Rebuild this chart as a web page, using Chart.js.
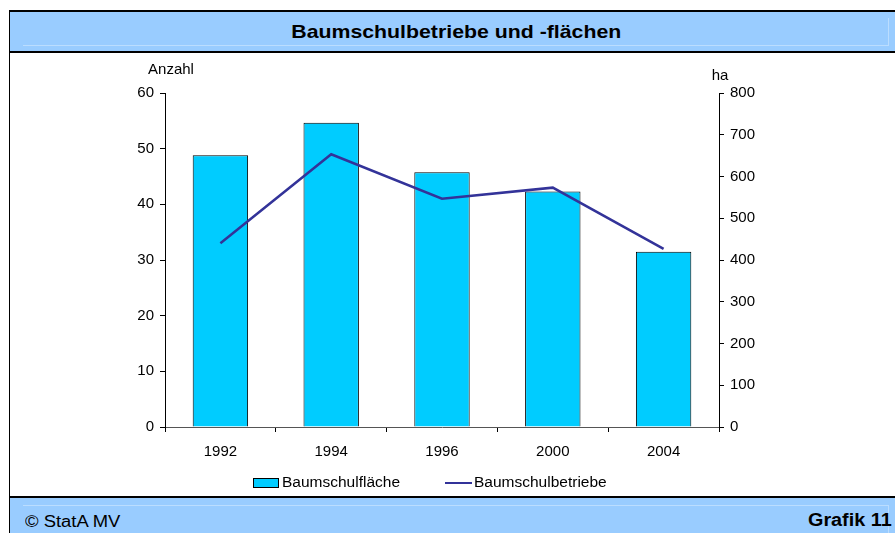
<!DOCTYPE html>
<html>
<head>
<meta charset="utf-8">
<script src="https://cdn.jsdelivr.net/npm/chart.js@4/dist/chart.umd.min.js"></script>
<style>
  body { margin: 0; width: 895px; height: 533px; overflow: hidden; background: #fff;
         font-family: "Liberation Sans", Arial, sans-serif; position: relative; }
  #head { position: absolute; left: 9px; top: 10px; width: 900px; height: 39px;
          background: #99CCFF; border-top: 2px solid #000; border-left: 1px solid #000;
          border-bottom: 2px solid #000; }
  #head .bevel { position: absolute; left: 13px; top: 6px; width: 865px; height: 27px;
                 border-right: 1px solid #BBDDFF; border-bottom: 1px solid #BBDDFF; }
  #title { position: absolute; left: 0; top: 0; width: 892px; line-height: 40px; text-align: center;
           font-weight: bold; font-size: 19px; }
  #title span { display: inline-block; transform: scaleX(1.12); }
  #box { position: absolute; left: 9px; top: 53px; width: 900px; height: 443px; border-left: 1px solid #000; }
  #foot { position: absolute; left: 9px; top: 496px; width: 900px; height: 40px;
          background: #99CCFF; border-top: 2px solid #000; border-left: 1px solid #000; }
  #foot .bevel { position: absolute; left: 13px; top: 7px; width: 865px; height: 40px;
                 border-top: 1px solid #BBDDFF; border-right: 1px solid #BBDDFF; }
  #copy { position: absolute; left: 15px; top: 15px; font-size: 16px; transform: scaleX(1.15); transform-origin: left center; }
  #grafik { position: absolute; left: 798px; top: 12px; font-size: 18px; font-weight: bold;
            transform: scaleX(1.1); transform-origin: left center; }
  #chart { position: absolute; left: 0; top: 0; }
</style>
</head>
<body>
<div id="head"><div class="bevel"></div><div id="title"><span>Baumschulbetriebe und -flächen</span></div></div>
<div id="box"></div>
<div id="foot"><div class="bevel"></div><div id="copy">© StatA MV</div><div id="grafik">Grafik 11</div></div>
<canvas id="chart" width="895" height="533"></canvas>
<script>
// Data
const years = ['1992', '1994', '1996', '2000', '2004'];
const flaeche = [651, 729, 610, 564, 420];   // ha, right axis
const betriebe = [33, 49, 41, 43, 32];       // Anzahl, left axis
const leftTicks = [0, 10, 20, 30, 40, 50, 60];
const rightTicks = [0, 100, 200, 300, 400, 500, 600, 700, 800];

const FONT = '"Liberation Sans", Arial, sans-serif';

// Axis captions and legend drawn on the canvas
const extrasPlugin = {
    id: 'extras',
    afterDraw(chart) {
        const ctx = chart.ctx;
        const area = chart.chartArea;
        ctx.save();
        ctx.font = '15px ' + FONT;
        ctx.fillStyle = '#000';
        ctx.textBaseline = 'middle';
        ctx.textAlign = 'center';
        ctx.fillText('Anzahl', area.left + 6, 70);
        ctx.fillText('ha', area.right + 1, 76);

        // legend
        ctx.font = '15.5px ' + FONT;
        ctx.textAlign = 'left';
        const starts = [253, 445];
        const y = 483;
        chart.data.datasets.forEach((ds, i) => {
            const x = starts[i];
            if (ds.type === 'line') {
                ctx.strokeStyle = ds.borderColor;
                ctx.lineWidth = 2;
                ctx.beginPath();
                ctx.moveTo(x, y);
                ctx.lineTo(x + 27, y);
                ctx.stroke();
            } else {
                ctx.fillStyle = ds.backgroundColor;
                ctx.fillRect(x, y - 5, 26, 10);
                ctx.strokeStyle = '#000';
                ctx.lineWidth = 1;
                ctx.strokeRect(x + 0.5, y - 4.5, 25, 9);
            }
            ctx.fillStyle = '#000';
            ctx.fillText(ds.label, x + 29, y);
        });
        ctx.restore();
    }
};

const ctx = document.getElementById('chart').getContext('2d');
const chart = new Chart(ctx, {
    type: 'bar',
    data: {
        labels: years,
        datasets: [{
            type: 'bar',
            label: 'Baumschulfläche',
            data: flaeche,
            yAxisID: 'y1',
            backgroundColor: '#00CCFF',
            borderColor: '#000',
            borderWidth: 1,
            barPercentage: 0.5,
            categoryPercentage: 1,
            order: 1
        }, {
            type: 'line',
            label: 'Baumschulbetriebe',
            data: betriebe,
            yAxisID: 'y',
            borderColor: '#333399',
            borderWidth: 2.5,
            pointRadius: 0,
            tension: 0,
            order: 0
        }]
    },
    options: {
        responsive: false,
        animation: false,
        devicePixelRatio: 1,
        events: [],
        layout: { padding: { top: 93, left: 0, right: 0, bottom: 0 } },
        plugins: {
            legend: { display: false },
            tooltip: { enabled: false }
        },
        scales: {
            x: {
                offset: true,
                grid: { offset: true, drawOnChartArea: false, color: '#000', tickLength: 5 },
                border: { color: '#555', width: 1 },
                ticks: { color: '#000', font: { size: 15, family: FONT }, padding: 11, maxRotation: 0 },
                afterFit(scale) { scale.height = 106; }
            },
            y: {
                position: 'left',
                min: 0,
                max: 60,
                afterBuildTicks(scale) { scale.ticks = leftTicks.map(v => ({ value: v })); },
                grid: { drawOnChartArea: false, color: '#000', tickLength: 5 },
                border: { color: '#000', width: 1 },
                ticks: { color: '#000', font: { size: 15, family: FONT }, padding: 6 },
                afterFit(scale) { scale.width = 165; }
            },
            y1: {
                position: 'right',
                min: 0,
                max: 800,
                afterBuildTicks(scale) { scale.ticks = rightTicks.map(v => ({ value: v })); },
                grid: { drawOnChartArea: false, color: '#000', tickLength: 5 },
                border: { color: '#000', width: 1 },
                ticks: { color: '#000', font: { size: 15, family: FONT }, padding: 6 },
                afterFit(scale) { scale.width = 176; }
            }
        }
    },
    plugins: [extrasPlugin]
});
</script>
</body>
</html>
